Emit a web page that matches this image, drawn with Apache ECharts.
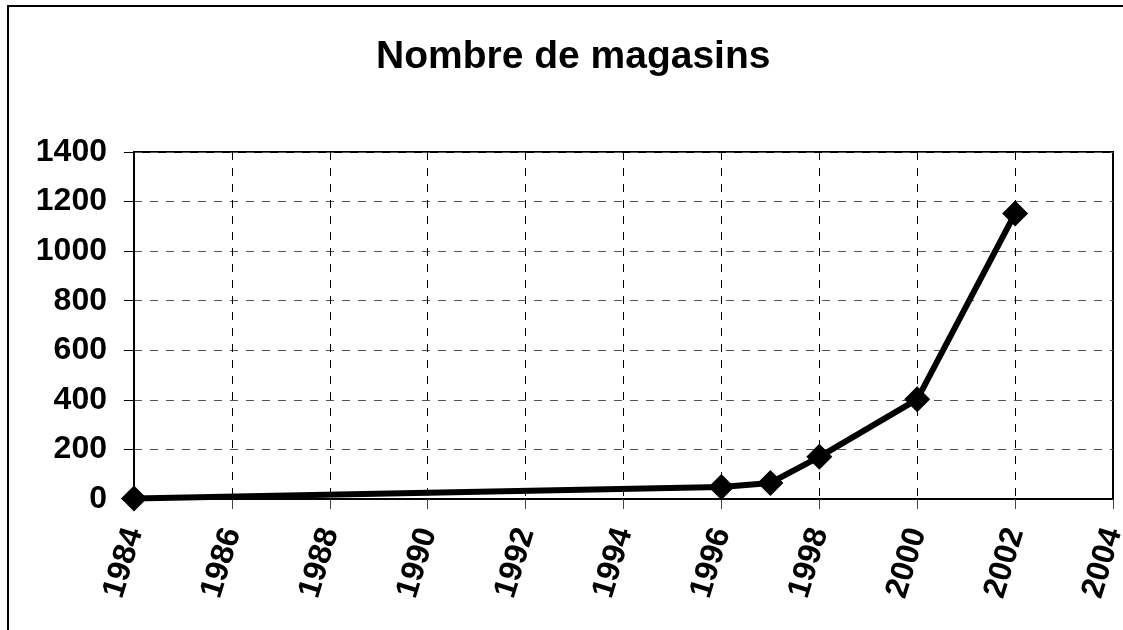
<!DOCTYPE html>
<html>
<head>
<meta charset="utf-8">
<script src="https://cdn.jsdelivr.net/npm/echarts@6/dist/echarts.min.js"></script>
<style>
  html, body { margin: 0; padding: 0; background: #fff; }
  #chart { width: 1123px; height: 630px; }
</style>
</head>
<body>
<div id="chart"></div>
<script>
// Nombre de magasins par année
var years = [1984, 1996, 1997, 1998, 2000, 2002];
var stores = [2, 48, 65, 170, 402, 1152];

var points = years.map(function (y, i) { return [y, stores[i]]; });

var chart = echarts.init(document.getElementById('chart'));
var fontFamily = 'Liberation Sans, Arial, sans-serif';

chart.setOption({
    backgroundColor: '#fff',
    animation: false,
    title: {
        text: 'Nombre de magasins',
        left: 371,
        top: 33,
        textStyle: { fontFamily: fontFamily, fontSize: 39, fontWeight: 'bold', color: '#000' }
    },
    graphic: [{
        type: 'rect',
        shape: { x: 8, y: 6, width: 1300, height: 800 },
        style: { fill: null, stroke: '#000', lineWidth: 2 },
        silent: true
    }],
    grid: {
        left: 134, top: 152, right: 10, bottom: 131,
        outerBoundsMode: 'none',
        show: true, borderColor: '#000', borderWidth: 2
    },
    xAxis: {
        type: 'value',
        min: 1984, max: 2004, interval: 2,
        axisLine: { lineStyle: { color: '#000', width: 2 } },
        axisTick: { show: true, length: 10, lineStyle: { color: '#444' } },
        axisLabel: {
            rotate: 73, margin: 30,
            fontFamily: fontFamily, fontSize: 32, fontWeight: 'bold', color: '#000',
            formatter: function (v) { return String(v); }
        },
        splitLine: { show: true, lineStyle: { color: '#000', type: [8, 8], width: 1 } }
    },
    yAxis: {
        type: 'value',
        min: 0, max: 1400, interval: 200,
        axisLine: { show: true, lineStyle: { color: '#000', width: 2 } },
        axisTick: { show: true, length: 10, lineStyle: { color: '#000' } },
        axisLabel: {
            margin: 27, fontFamily: fontFamily, fontSize: 32, fontWeight: 'bold', color: '#000',
            formatter: function (v) { return String(v); }
        },
        splitLine: { show: true, lineStyle: { color: '#555', type: [8, 8], width: 1 } }
    },
    series: [{
        type: 'line',
        data: points,
        symbol: 'diamond',
        symbolSize: 26,
        lineStyle: { color: '#000', width: 6 },
        itemStyle: { color: '#000' },
        clip: false
    }]
});
</script>
</body>
</html>
